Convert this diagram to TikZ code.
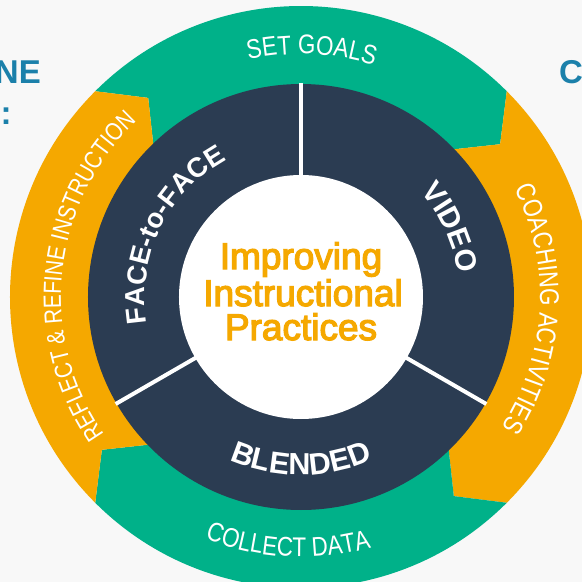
\documentclass[tikz,border=0pt]{standalone}
\usepackage{fontspec}
\setmainfont{Liberation Sans}
\newfontfamily\lblfam[FakeStretch=0.83]{Liberation Sans}
\newfontfamily\ctrfam[FakeBold=3.5]{Liberation Sans}
\usetikzlibrary{decorations.text}
\definecolor{ringgreen}{HTML}{00B189}
\definecolor{ringorange}{HTML}{F5A800}
\definecolor{navy}{HTML}{2B3C52}
\definecolor{bggray}{HTML}{F8F8F8}
\definecolor{titleblue}{HTML}{1B80AA}
\newcommand{\lblfont}{\lblfam\fontsize{27}{27}\selectfont}
\newcommand{\smlblfont}{\lblfam\fontsize{25}{25}\selectfont}
\newcommand{\darkfont}{\bfseries\fontsize{29.5}{29.5}\selectfont}
\newcommand{\ffont}{\bfseries\fontsize{27.5}{27.5}\selectfont}
\newcommand{\bfont}{\bfseries\fontsize{30.5}{30.5}\selectfont}
\newcommand{\ctrfont}{\ctrfam\fontsize{37}{37}\selectfont}
\begin{document}
\begin{tikzpicture}[x=1pt,y=1pt,
  sidetext/.style={font=\bfseries\fontsize{33}{33}\selectfont, text=titleblue, inner sep=0pt},
  ctrtext/.style={font=\ctrfont, text=ringorange, inner sep=0pt, anchor=base},
  divider/.style={white, line width=4pt},
  ringlabel/.style={decorate, decoration={text along path, text={#1}, text align=center, text color=white}}
]
% background and frame
\fill[bggray] (-301,-285) rectangle (281,297);
\useasboundingbox (-301,-285) rectangle (281,297);

% outer arrow ring
\foreach \a/\c in {135/ringgreen, 45/ringorange, -45/ringgreen, -135/ringorange} {
  \fill[\c] ({\a}:291) arc[start angle=\a, end angle=\a-90, radius=291]
    -- ({\a-97.5}:251) -- ({\a-90}:208)
    arc[start angle=\a-90, end angle=\a, radius=208]
    -- ({\a-7.5}:251) -- cycle;
}

% dark ring and centre
\fill[navy] (0,0) circle[radius=213];
\fill[white] (0,0) circle[radius=122];
\foreach \a in {90,210,330} \draw[divider] (\a:121) -- (\a:214);

% outer labels
\path[ringlabel={|\lblfont|SET GOALS}] (127.5:243) arc[start angle=127.5, end angle=47.5, radius=243];
\path[ringlabel={|\lblfont|COACHING ACTIVITIES}] (42:239) arc[start angle=42, end angle=-48, radius=239];
\path[ringlabel={|\lblfont|COLLECT DATA}] (222:260) arc[start angle=222, end angle=312, radius=260];
\path[ringlabel={|\smlblfont|REFLECT {\&} REFINE INSTRUCTION}] (222:240) arc[start angle=222, end angle=126, radius=240];

% dark ring labels
\path[ringlabel={|\ffont|FACE-to-FACE}] (214:156) arc[start angle=214, end angle=94, radius=156];
\path[ringlabel={|\darkfont|VIDEO}] (60:159) arc[start angle=60, end angle=-10, radius=159];
\path[ringlabel={|\bfont|BLENDED}] (221:178) arc[start angle=221, end angle=319, radius=178];

% centre text
\node[ctrtext] (ctr1) at (0,28) {Improving};
\node[ctrtext] (ctr2) at (2,-9) {Instructional};
\node[ctrtext] (ctr3) at (0,-43) {Practices};

% cropped side texts
\node[sidetext, anchor=base east] (ne) at (-260,214) {NE};
\node[sidetext, anchor=base] (colon) at (-295,173) {:};
\node[sidetext, anchor=base west] (cc) at (258,214) {C};
\end{tikzpicture}
\end{document}
